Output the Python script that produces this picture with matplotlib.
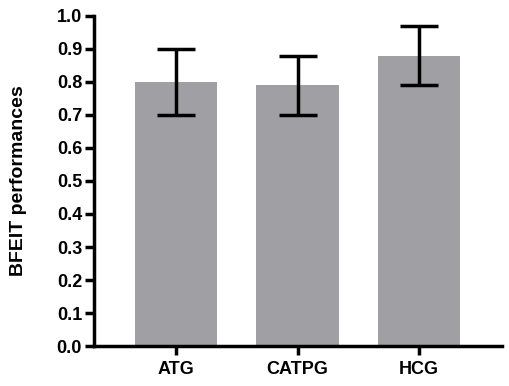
import matplotlib
matplotlib.use("Agg")
import matplotlib.pyplot as plt
import numpy as np

groups = ["ATG", "CATPG", "HCG"]
means = [0.80, 0.79, 0.88]
err_low = [0.10, 0.09, 0.09]
err_high = [0.10, 0.09, 0.09]
yticks = [0.0, 0.1, 0.2, 0.3, 0.4, 0.5, 0.6, 0.7, 0.8, 0.9, 1.0]

plt.rcParams["font.family"] = ["Liberation Sans", "DejaVu Sans"]
plt.rcParams["font.weight"] = "bold"

fig = plt.figure(figsize=(5.1, 3.86), dpi=100)
ax = fig.add_axes([0.184, 0.1036, 0.80, 0.855])

x = np.arange(len(groups))
ax.bar(x, means, width=0.675, color="#a0a0a4", zorder=1)
ax.errorbar(x, means, yerr=[err_low, err_high], fmt="none", ecolor="black",
            elinewidth=2.5, capsize=14, capthick=2.5, zorder=2)

ax.set_xlim(-0.675, 2.68)
ax.set_ylim(0, 1.0)
ax.set_yticks(yticks)
ax.set_yticklabels([f"{v:.1f}" for v in yticks])
ax.set_xticks(x)
ax.set_xticklabels(groups)
ax.set_ylabel("BFEIT performances", fontsize=14, fontweight="bold")
ax.yaxis.set_label_coords(-0.164, 0.5)

for side in ["top", "right"]:
    ax.spines[side].set_visible(False)
for side in ["left", "bottom"]:
    ax.spines[side].set_linewidth(2.5)
ax.tick_params(axis="both", width=2.5, length=6.5, labelsize=13)
ax.tick_params(axis="y", pad=2)
ax.tick_params(axis="x", pad=4)

fig.savefig("out.png", dpi=100)
